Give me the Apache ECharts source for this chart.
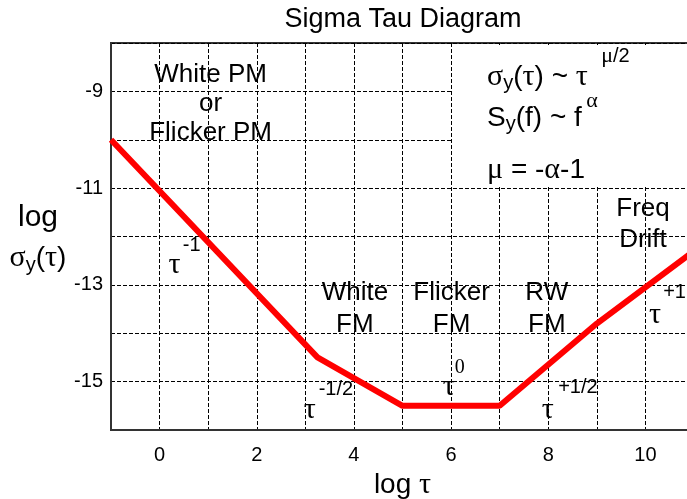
<!DOCTYPE html>
<html>
<head>
<meta charset="utf-8">
<script src="https://cdn.jsdelivr.net/npm/echarts@6/dist/echarts.min.js"></script>
<style>
  html, body { margin: 0; padding: 0; background: #fff; }
  #main { width: 687px; height: 499px; }
</style>
</head>
<body>
<div id="main"></div>
<script>
// log tau vs log sigma_y(tau), corner points of the red curve
const logTau = [-1, 3.25, 5, 7, 9, 11];
const logSigma = [-10, -14.5, -15.5, -15.5, -13.8, -12.3];

const SANS = "'Liberation Sans', Arial, sans-serif";
const SERIF = "'Liberation Serif', 'Times New Roman', serif";

// text placed in data coords (log tau, log sigma)
const notes = [
    { x: 1.05, y: -9.26, text: 'White PM\nor\nFlicker PM', size: 26, lh: 29 },
    { x: 4.02, y: -13.5, text: 'White\nFM', size: 26, lh: 32 },
    { x: 6.01, y: -13.5, text: 'Flicker\nFM', size: 26, lh: 32 },
    { x: 7.97, y: -13.5, text: 'RW\nFM', size: 26, lh: 32 },
    { x: 9.95, y: -11.74, text: 'Freq\nDrift', size: 26, lh: 31 },
    // slopes
    { x: 0.31, y: -12.6, text: 'τ', size: 30, serif: true },
    { x: 0.66, y: -12.18, text: '-1', size: 20 },
    { x: 3.09, y: -15.59, text: 'τ', size: 30, serif: true },
    { x: 3.63, y: -15.17, text: '-1/2', size: 20 },
    { x: 5.95, y: -15.11, text: 'τ', size: 30, serif: true },
    { x: 6.18, y: -14.72, text: '0', size: 20, serif: true },
    { x: 7.99, y: -15.59, text: 'τ', size: 30, serif: true },
    { x: 8.61, y: -15.13, text: '+1/2', size: 20 },
    { x: 10.2, y: -13.62, text: 'τ', size: 30, serif: true },
    { x: 10.6, y: -13.15, text: '+1', size: 20 },
    // formulas, left aligned
    { x: 6.74, y: -8.7, text: '{g|σ}{s|y}{n|(}{g|τ}{n|) ~ }{g|τ}', left: true },
    { x: 9.09, y: -8.27, text: '{g2|μ}{n2|/2}', left: true },
    { x: 6.74, y: -9.55, text: '{n|S}{s|y}{n|(f) ~ f}', left: true },
    { x: 8.78, y: -9.2, text: '{g2|α}', left: true },
    { x: 6.74, y: -10.63, text: '{g|μ}{n| = -}{g|α}{n|-1}', left: true }
];

const rich = {
    n: { fontFamily: SANS, fontSize: 28, lineHeight: 34, color: '#000' },
    g: { fontFamily: SERIF, fontSize: 30, lineHeight: 34, color: '#000' },
    s: { fontFamily: SANS, fontSize: 20, lineHeight: 12, verticalAlign: 'bottom', color: '#000' },
    n2: { fontFamily: SANS, fontSize: 20, lineHeight: 22, color: '#000' },
    g2: { fontFamily: SERIF, fontSize: 22, lineHeight: 22, color: '#000' }
};

const chart = echarts.init(document.getElementById('main'));

const option = {
    animation: false,
    grid: {
        left: 111, top: 43, bottom: 69, right: -7,
        outerBoundsMode: 'none',
        containLabel: false,
        show: true, borderColor: '#333', borderWidth: 2,
        backgroundColor: 'transparent'
    },
    xAxis: {
        type: 'value', min: -1, max: 11, interval: 1,
        name: '{n|log }{g|τ}', nameLocation: 'middle', nameGap: 32,
        nameTextStyle: { rich: rich },
        axisLine: { show: true, onZero: false, lineStyle: { color: '#333', width: 2 } },
        axisTick: { show: false },
        axisLabel: {
            fontFamily: SANS, fontSize: 20, color: '#000', margin: 15,
            formatter: v => (v % 2 === 0 ? String(v) : '')
        },
        splitLine: { show: true, lineStyle: { color: '#000', width: 1, type: [4, 2] } }
    },
    yAxis: {
        type: 'value', min: -16, max: -8, interval: 1,
        axisLine: { show: true, onZero: false, lineStyle: { color: '#333', width: 2 } },
        axisTick: { show: false },
        axisLabel: {
            fontFamily: SANS, fontSize: 20, color: '#000', margin: 8,
            formatter: v => (Math.abs(v) % 2 === 1 ? String(v) : '')
        },
        splitLine: { show: true, lineStyle: { color: '#000', width: 1, type: [4, 2] } }
    },
    series: [{
        type: 'line',
        data: logTau.map((t, i) => [t, logSigma[i]]),
        showSymbol: false,
        symbol: 'none',
        lineStyle: { color: '#ff0000', width: 6 },
        clip: true,
        markArea: {
            silent: true,
            itemStyle: { color: '#fff', opacity: 1 },
            data: [[{ coord: [6.03, -8.04] }, { coord: [11, -10.97] }]]
        }
    }]
};

chart.setOption(option);

const graphics = notes.map(n => {
    const p = chart.convertToPixel({ gridIndex: 0 }, [n.x, n.y]);
    const style = {
        text: n.text,
        align: n.left ? 'left' : 'center',
        verticalAlign: 'middle',
        fill: '#000'
    };
    if (n.left) {
        style.rich = rich;
    } else {
        style.font = n.size + 'px ' + (n.serif ? SERIF : SANS);
        if (n.lh) style.lineHeight = n.lh;
    }
    return { type: 'text', x: p[0], y: p[1], z: 100, style: style };
});

// title and y axis caption
graphics.push({
    type: 'text', x: 403, y: 20, z: 100,
    style: { text: 'Sigma Tau Diagram', font: '27px ' + SANS, fill: '#000', align: 'center', verticalAlign: 'middle' }
});
graphics.push({
    type: 'text', x: 38, y: 218, z: 100,
    style: { text: 'log', font: '30px ' + SANS, fill: '#000', align: 'center', verticalAlign: 'middle' }
});
graphics.push({
    type: 'text', x: 38, y: 258, z: 100,
    style: { text: '{g|σ}{s|y}{n|(}{g|τ}{n|)}', rich: rich, align: 'center', verticalAlign: 'middle' }
});

chart.setOption({ graphic: graphics });
</script>
</body>
</html>
